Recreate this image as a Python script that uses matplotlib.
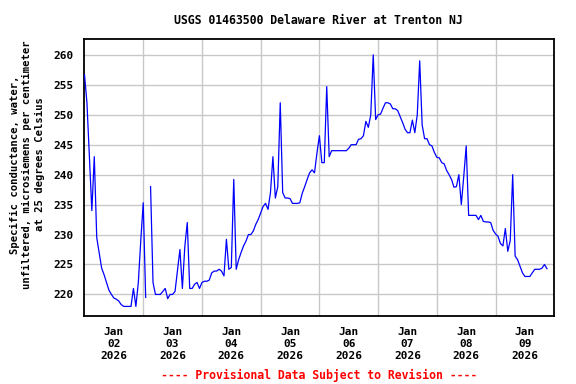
import numpy as np
import matplotlib
matplotlib.use("Agg")
import matplotlib.pyplot as plt

# Hours since 2026-01-02 00:00, hourly values of specific conductance
values = [
    256.7, 252, 243, 234, 243, 229.5, 227, 224.4, 223.3, 222,
    220.7, 220, 219.4, 219.2, 218.9, 218.3, 218, 218, 218, 218,
    221, 218, 222, 229, 235.3, 219.5, np.nan, 238, 222, 220,
    220, 220, 220.5, 221, 219.3, 220, 220, 220.5, 224, 227.5,
    221, 228, 232, 221, 221, 221.7, 222, 221, 222, 222.2,
    222.2, 222.4, 223.6, 223.9, 223.9, 224.2, 223.9, 223.1, 229.2, 224.2,
    224.5, 239.2, 224.2, 225.8, 227, 228.1, 228.9, 230, 230, 230.6,
    231.7, 232.5, 233.6, 234.7, 235.2, 234.2, 237, 243, 236.1, 238,
    252, 237, 236.1, 236.1, 236, 235.2, 235.2, 235.2, 235.3, 236.9,
    238, 239.2, 240.3, 240.8, 240.3, 243.6, 246.5, 242, 242, 254.7,
    243, 244, 244, 244, 244, 244, 244, 244, 244.4, 245,
    245, 245, 245.9, 246, 246.5, 248.9, 247.9, 250, 260, 249.2,
    250, 250.1, 251.1, 252, 252, 251.8, 251, 251, 250.7, 249.7,
    248.7, 247.6, 247, 247, 249.1, 247, 250, 259, 248.3, 246,
    246, 245, 244.8, 243.7, 242.9, 242.8, 242, 241.8, 240.7, 240,
    239.2, 237.9, 238, 240, 235, 239.7, 244.8, 233.2, 233.2, 233.2,
    233.2, 232.5, 233.2, 232.2, 232.1, 232.1, 232, 230.7, 230.1, 229.7,
    228.5, 228.1, 231, 227.2, 229, 240, 226.4, 225.8, 224.7, 223.6,
    223, 223, 223, 223.6, 224.2, 224.2, 224.2, 224.4, 225, 224.3,
]
hours = np.arange(len(values))

day_labels = ["Jan\n02\n2026", "Jan\n03\n2026", "Jan\n04\n2026", "Jan\n05\n2026",
              "Jan\n06\n2026", "Jan\n07\n2026", "Jan\n08\n2026", "Jan\n09\n2026"]
y_ticks = [220, 225, 230, 235, 240, 245, 250, 255, 260]

title = "USGS 01463500 Delaware River at Trenton NJ"
ylabel = ("Specific conductance, water,\n"
          "unfiltered, microsiemens per centimeter\n"
          "at 25 degrees Celsius")
footer = "---- Provisional Data Subject to Revision ----"

mono = "DejaVu Sans Mono"

fig = plt.figure(figsize=(5.76, 3.84), dpi=100)
ax = fig.add_axes([0.1467, 0.1771, 0.9623 - 0.1467, 0.8977 - 0.1771])

ax.plot(hours, values, color="#0000ff", linewidth=0.9, zorder=3)

ax.set_xlim(0, 192)
ax.set_ylim(216.4, 262.6)

ax.set_xticks(np.arange(24, 192, 24))
ax.set_xticklabels([])
ax.set_xticks(np.arange(12, 192, 24), minor=True)
ax.set_xticklabels(day_labels, minor=True, fontfamily=mono, fontweight="bold",
                   fontsize=8, linespacing=1.25)
ax.set_yticks(y_ticks)
ax.set_yticklabels([str(v) for v in y_ticks], fontfamily=mono, fontweight="bold",
                   fontsize=8)

ax.tick_params(axis="both", which="both", length=0)
ax.tick_params(axis="x", which="minor", pad=8)
ax.tick_params(axis="y", pad=8)

ax.grid(True, which="major", color="#c8c8c8", linewidth=1.0, zorder=0)
for s in ax.spines.values():
    s.set_linewidth(1.3)
    s.set_color("black")

fig.text(0.047, 0.572, ylabel, ha="center", va="center", rotation=90,
         fontfamily=mono, fontweight="bold", fontsize=7.6, linespacing=1.3,
         multialignment="center")

fig.text(0.5535, 0.947, title, ha="center", va="center", fontfamily=mono,
         fontweight="bold", fontsize=8.3)
fig.text(0.5535, 0.023, footer, ha="center", va="center", fontfamily=mono,
         fontweight="bold", fontsize=8.3, color="red")

fig.savefig("out.png", dpi=100)
